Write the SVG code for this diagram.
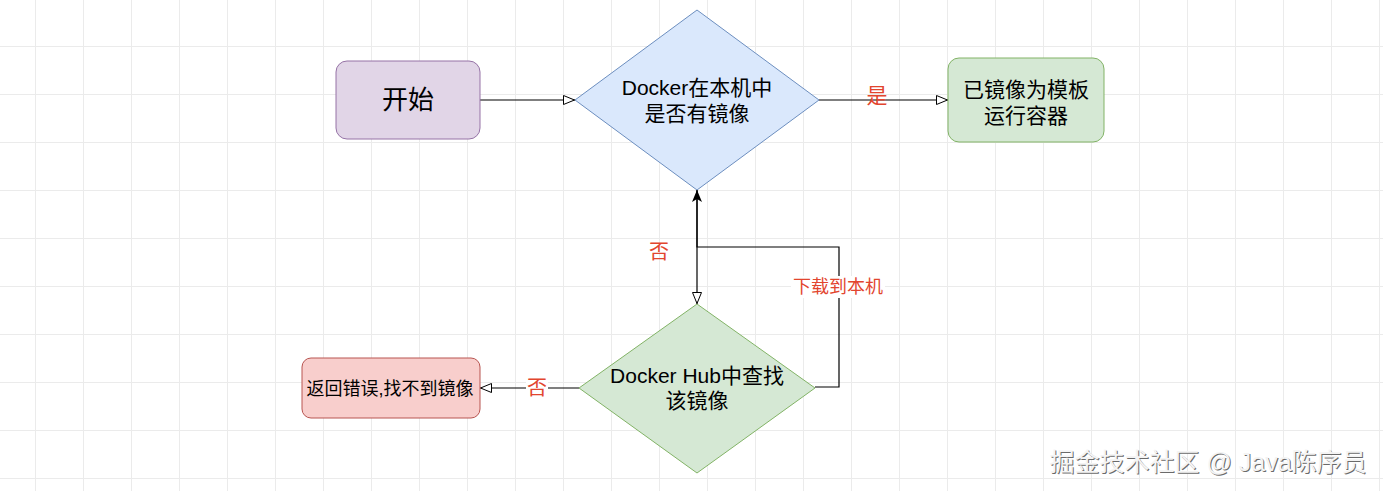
<svg xmlns="http://www.w3.org/2000/svg" width="1383" height="491" viewBox="0 0 1383 491">
  <defs>
    <pattern id="grid" x="35" y="46" width="48" height="48" patternUnits="userSpaceOnUse">
      <path d="M0 0.5 H48 M0.5 0 V48" fill="none" stroke="#ebebeb" stroke-width="1"/>
    </pattern>
    <marker id="open" viewBox="0 0 12 10" refX="12" refY="5" markerWidth="12" markerHeight="10" markerUnits="userSpaceOnUse" orient="auto">
      <path d="M0.5 0.5 L11.5 5 L0.5 9.5 Z" fill="#ffffff" stroke="#000000" stroke-width="1"/>
    </marker>
    <marker id="block" viewBox="0 0 12 10" refX="12" refY="5" markerWidth="12" markerHeight="10" markerUnits="userSpaceOnUse" orient="auto">
      <path d="M0 0 L12 5 L0 10 L3 5 Z" fill="#000000"/>
    </marker>
  </defs>
  <style>
    .t { font-family: "Liberation Sans", "Noto Sans CJK SC", sans-serif; fill: #000000; text-anchor: middle; dominant-baseline: central; }
    .lbl { font-family: "Liberation Sans", "Noto Sans CJK SC", sans-serif; fill: #e2452e; text-anchor: middle; dominant-baseline: central; }
    .edge { fill: none; stroke: #000000; stroke-width: 1.2; }
    .wm { font-family: "Liberation Sans", "Noto Sans CJK SC", sans-serif; font-size: 25px; text-anchor: middle; dominant-baseline: central; }
  </style>
  <rect width="1383" height="491" fill="#ffffff"/>
  <rect width="1383" height="491" fill="url(#grid)"/>

  <g id="connectors">
    <path class="edge" d="M480 100 H575" marker-end="url(#open)"/>
    <path class="edge" d="M819 100 H948" marker-end="url(#open)"/>
    <path class="edge" d="M697 190 V304" marker-end="url(#open)"/>
    <path class="edge" d="M815 387 H839 V247 H697 V190" marker-end="url(#block)"/>
    <path class="edge" d="M579 388 H480" marker-end="url(#open)"/>
    <text class="lbl" x="877" y="95" font-size="21">是</text>
    <text class="lbl" x="659" y="252" font-size="20">否</text>
    <rect x="791" y="276" width="94" height="22" fill="#ffffff"/>
    <text class="lbl" x="838" y="287" font-size="18">下载到本机</text>
    <rect x="526" y="377" width="22" height="22" fill="#ffffff"/>
    <text class="lbl" x="537" y="388" font-size="20">否</text>
  </g>

  <g id="start">
    <rect x="336" y="61" width="144" height="78" rx="11" ry="11" fill="#e1d5e7" stroke="#9673a6" stroke-width="1"/>
    <text class="t" x="408" y="100" font-size="26">开始</text>
  </g>

  <g id="check-local">
    <path d="M697 10 L819 100 L697 190 L575 100 Z" fill="#dae8fc" stroke="#6c8ebf" stroke-width="1"/>
    <text class="t" x="697" y="87" font-size="21">Docker在本机中</text>
    <text class="t" x="697" y="113" font-size="21">是否有镜像</text>
  </g>

  <g id="run-container">
    <rect x="948" y="58" width="156" height="84" rx="11" ry="11" fill="#d5e8d4" stroke="#82b366" stroke-width="1"/>
    <text class="t" x="1026" y="89" font-size="21">已镜像为模板</text>
    <text class="t" x="1026" y="115" font-size="21">运行容器</text>
  </g>

  <g id="search-hub">
    <path d="M697 304 L815 388 L697 473 L579 388 Z" fill="#d5e8d4" stroke="#82b366" stroke-width="1"/>
    <text class="t" x="697" y="375" font-size="21">Docker Hub中查找</text>
    <text class="t" x="697" y="400" font-size="21">该镜像</text>
  </g>

  <g id="error">
    <rect x="302" y="358" width="178" height="60" rx="9" ry="9" fill="#f8cecc" stroke="#b85450" stroke-width="1"/>
    <text class="t" x="390" y="389" font-size="18">返回错误,找不到镜像</text>
  </g>

  <g id="watermark">
    <text class="wm" x="1209" y="463" fill="#6a6a6a">掘金技术社区 @ Java陈序员</text>
    <text class="wm" x="1208" y="462" fill="#f4f4f4">掘金技术社区 @ Java陈序员</text>
  </g>
</svg>
